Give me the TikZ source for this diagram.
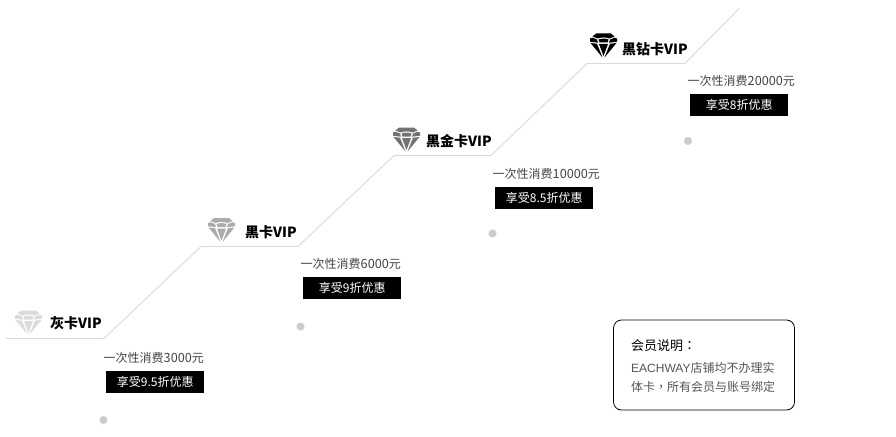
\documentclass[tikz,border=0pt]{standalone}
\usepackage{fontspec}
\setmainfont{Noto Sans CJK SC}
\newfontfamily\puncfont{Noto Sans CJK TC}
\newfontfamily\latinfont{Liberation Sans}
\newcommand{\wdg}[1]{{\fontsize{12.7}{14}\selectfont #1}}
\definecolor{stepline}{HTML}{D9D9D9}
\definecolor{dotgrey}{HTML}{CCCCCC}
\definecolor{costtext}{HTML}{444444}
\definecolor{notetext}{HTML}{555555}
\tikzset{
  pics/gem/.style={code={
    \fill[#1] (-7.5,0) -- (7.5,0) -- (11,3) -- (6,5) .. controls (2,3.6) and (-2,3.6) .. (-6,5) -- (-11,3) -- cycle;
    \fill[#1] (-13.5,5) -- (-11,4.2) -- (-6.5,6) -- (-5.5,9.2) -- (-13.5,8.2) -- cycle;
    \fill[#1] (13.5,5) -- (11,4.2) -- (6.5,6) -- (5.5,9.2) -- (13.5,8.2) -- cycle;
    \fill[#1] (-5,6) .. controls (-2,4.8) and (2,4.8) .. (5,6) -- (4,9) -- (-4,9) -- cycle;
    \fill[#1] (-13,9.5) -- (-6.5,10.2) -- (-1,24) -- cycle;
    \fill[#1] (13,9.5) -- (6.5,10.2) -- (1,24) -- cycle;
    \fill[#1] (-4.5,10.5) -- (4.5,10.5) -- (0,22.5) -- cycle;
  }},
  steppath/.style={draw=stepline,line width=0.9pt},
  vipname/.style={font=\fontsize{14}{16}\selectfont\bfseries,text=black,inner sep=0pt,anchor=west},
  costlabel/.style={font=\fontsize{12}{14}\selectfont,text=costtext,inner sep=0pt,anchor=west},
  offerbox/.style={fill=black,text=white,font=\fontsize{12}{14}\selectfont,minimum width=98pt,minimum height=22pt,inner sep=0pt,anchor=west},
  stepdot/.style={circle,fill=dotgrey,minimum size=8pt,inner sep=0pt},
  notebox/.style={draw=black,line width=0.8pt,rounded corners=8pt,minimum width=181pt,minimum height=90pt,inner sep=0pt},
  notetitle/.style={font=\fontsize{13}{15}\selectfont,text=black,inner sep=0pt,anchor=west},
  notebody/.style={font=\fontsize{12}{14}\selectfont,text=notetext,inner sep=0pt,anchor=west},
}
\begin{document}
\begin{tikzpicture}[x=1pt,y=-1pt]
\useasboundingbox (0,0) rectangle (896,436);
\fill[white] (0,0) rectangle (896,436);
\coordinate (s0) at (6,338.5);
\coordinate (s1) at (104,338.5);
\coordinate (s2) at (201,246.5);
\coordinate (s3) at (298,246.5);
\coordinate (s4) at (394,155.5);
\coordinate (s5) at (491,155.5);
\coordinate (s6) at (587,63.5);
\coordinate (s7) at (685,63.5);
\coordinate (s8) at (739,8.5);
\draw[steppath] (s0) -- (s1) -- (s2) -- (s3) -- (s4) -- (s5) -- (s6) -- (s7) -- (s8);

\pic at (28.5,310.5) {gem={fill=black!14}};
\node[vipname] (n1) at (50,323.5) {灰卡VIP};
\node[costlabel] (c1) at (103.5,357.5) {一次性消费\wdg{3000}元};
\node[offerbox] (o1) at (106,382) {享受9.5折优惠};
\node[stepdot] (d1) at (103.5,420) {};

\pic at (221.5,218) {gem={fill=black!33}};
\node[vipname] (n2) at (245,232.5) {黑卡VIP};
\node[costlabel] (c2) at (300.5,263.5) {一次性消费\wdg{6000}元};
\node[offerbox] (o2) at (303,288) {享受9折优惠};
\node[stepdot] (d2) at (300.5,326.5) {};

\pic at (406.5,127.5) {gem={fill=black!55}};
\node[vipname] (n3) at (426,141.5) {黑金卡VIP};
\node[costlabel] (c3) at (492.5,173.5) {一次性消费\wdg{10000}元};
\node[offerbox] (o3) at (495,198) {享受8.5折优惠};
\node[stepdot] (d3) at (492.5,233.5) {};

\pic at (603.5,33.5) {gem={fill=black}};
\node[vipname] (n4) at (622,49.5) {黑钻卡VIP};
\node[costlabel] (c4) at (687.5,80.5) {一次性消费\wdg{20000}元};
\node[offerbox] (o4) at (690,105) {享受8折优惠};
\node[stepdot] (d4) at (688,141) {};

\node[notebox] (nb) at (704,365) {};
\node[notetitle] (nt) at (631,345.5) {会员说明{\puncfont ：}};
\node[notebody] (nl1) at (631,368) {{\latinfont EACHWAY}店铺均不办理实};
\node[notebody] (nl2) at (631,387) {体卡{\puncfont ，}所有会员与账号绑定};
\end{tikzpicture}
\end{document}
